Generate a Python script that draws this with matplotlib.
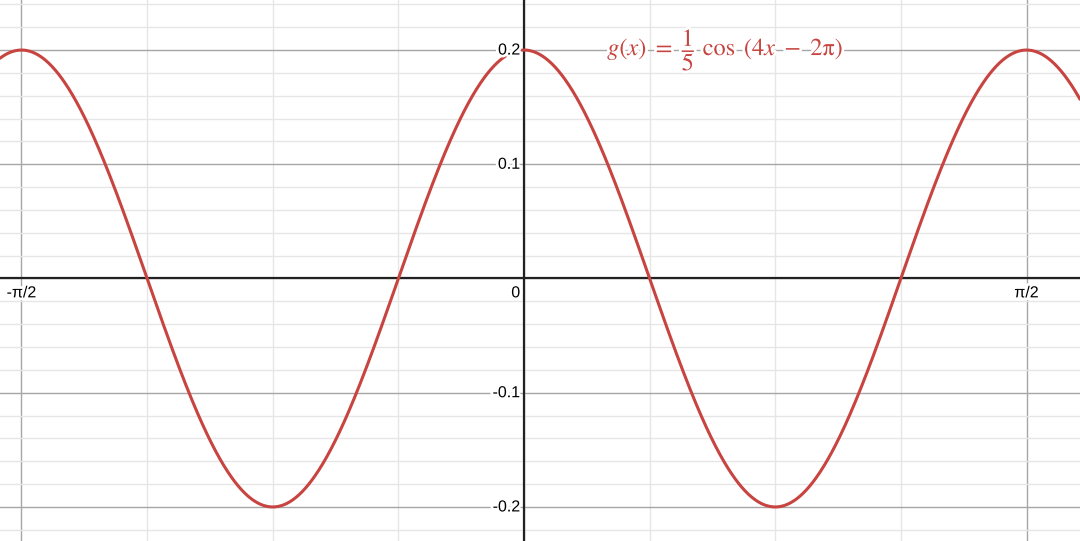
import numpy as np
import matplotlib.pyplot as plt
import matplotlib.patheffects as pe

# g(x) = 1/5 cos(4x - 2pi)
amplitude = 0.2
freq = 4
phase = -2 * np.pi

x_range = (-1.638, 1.738)
y_range = (-0.2298, 0.2438)

x_major = [-np.pi / 2, 0, np.pi / 2]
x_labels = ["-π/2", "0", "π/2"]
y_major = [-0.2, -0.1, 0.1, 0.2]
y_labels = ["-0.2", "-0.1", "0.1", "0.2"]

RED = "#c74440"
halo = [pe.withStroke(linewidth=4, foreground="white")]

plt.rcParams["mathtext.fontset"] = "stix"
fig = plt.figure(figsize=(10.8, 5.41), dpi=100)
ax = fig.add_axes([0, 0, 1, 1])
ax.set_xlim(*x_range)
ax.set_ylim(*y_range)
ax.axis("off")

# grid
for xv in np.arange(-5, 6) * np.pi / 8:
    major = abs(round(xv / (np.pi / 2)) - xv / (np.pi / 2)) < 1e-9
    ax.axvline(xv, color="#a6a6a6" if major else "#e6e6e6", lw=1, zorder=1)
for yv in np.arange(-12, 13) * 0.02:
    major = abs(round(yv / 0.1) - yv / 0.1) < 1e-9
    ax.axhline(yv, color="#a6a6a6" if major else "#e6e6e6", lw=1, zorder=1)

ax.axhline(0, color="#222222", lw=1.6, zorder=2)
ax.axvline(0, color="#222222", lw=1.6, zorder=2)

xs = np.linspace(x_range[0], x_range[1], 2000)
ax.plot(xs, amplitude * np.cos(freq * xs + phase), color=RED, lw=2.2, zorder=4,
        solid_capstyle="round")

# tick labels
for xv, lab in zip(x_major, x_labels):
    if xv == 0:
        ax.text(-0.012, -0.006, lab, ha="right", va="top", fontsize=11.5,
                family="Liberation Sans", path_effects=halo, zorder=5)
    else:
        ax.text(xv, -0.006, lab, ha="center", va="top", fontsize=11.5,
                family="Liberation Sans", path_effects=halo, zorder=5)
for yv, lab in zip(y_major, y_labels):
    ax.text(-0.012, yv, lab, ha="right", va="center", fontsize=11.5,
            family="Liberation Sans", path_effects=halo, zorder=5)

formula = r"$g(x)\ =\ \dfrac{1}{5}\ \cos\ \left(4x\ -\ 2\mathrm{\pi}\right)$"
ax.text(0.26, 0.2, formula, color=RED,
        fontsize=17.5, ha="left", va="center", path_effects=halo, zorder=5)

fig.savefig("out.png", dpi=100)
